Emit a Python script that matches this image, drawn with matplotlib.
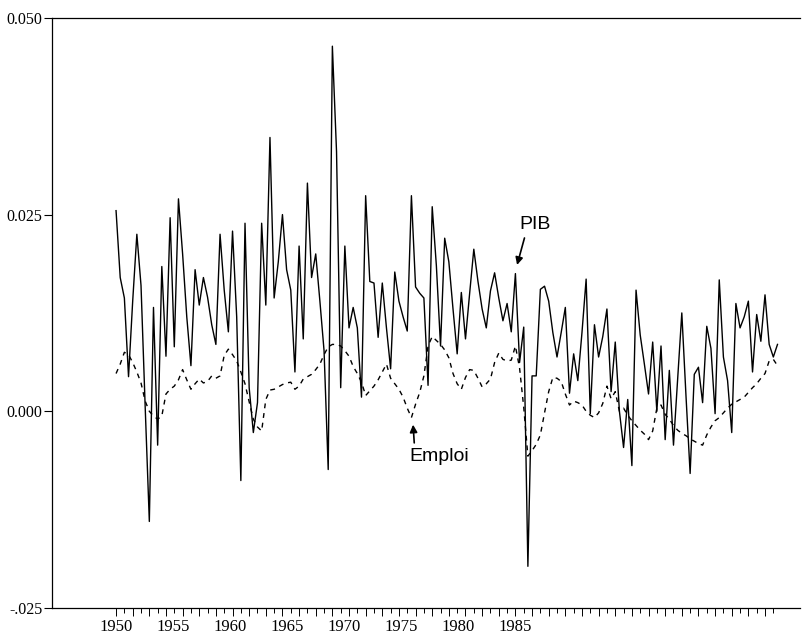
import numpy as np
import matplotlib
matplotlib.use("Agg")
import matplotlib.pyplot as plt

# Croissance trimestrielle, 1950T1 - 1989T4
pib = [
    0.0255, 0.0170, 0.0144, 0.0044, 0.0140, 0.0225, 0.0160, 0.0006, -0.0140, 0.0132,
    -0.0043, 0.0184, 0.0070, 0.0246, 0.0082, 0.0270, 0.0200, 0.0120, 0.0058, 0.0180,
    0.0135, 0.0170, 0.0145, 0.0110, 0.0085, 0.0225, 0.0154, 0.0101, 0.0229, 0.0120,
    -0.0088, 0.0239, 0.0030, -0.0027, 0.0011, 0.0239, 0.0135, 0.0348, 0.0144, 0.0190,
    0.0250, 0.0180, 0.0154, 0.0050, 0.0210, 0.0092, 0.0290, 0.0170, 0.0200, 0.0140,
    0.0077, -0.0074, 0.0464, 0.0330, 0.0030, 0.0210, 0.0106, 0.0132, 0.0106, 0.0018,
    0.0274, 0.0165, 0.0163, 0.0094, 0.0163, 0.0106, 0.0054, 0.0177, 0.0140, 0.0120,
    0.0102, 0.0274, 0.0158, 0.0150, 0.0144, 0.0033, 0.0260, 0.0185, 0.0083, 0.0220,
    0.0190, 0.0130, 0.0073, 0.0151, 0.0092, 0.0150, 0.0206, 0.0165, 0.0130, 0.0106,
    0.0153, 0.0176, 0.0144, 0.0115, 0.0137, 0.0101, 0.0175, 0.0062, 0.0107, -0.0197,
    0.0045, 0.0045, 0.0155, 0.0159, 0.0140, 0.0100, 0.0069, 0.0100, 0.0132, 0.0023,
    0.0073, 0.0039, 0.0100, 0.0168, -0.0003, 0.0110, 0.0069, 0.0095, 0.0130, 0.0025,
    0.0088, 0.0000, -0.0046, 0.0015, -0.0069, 0.0154, 0.0097, 0.0060, 0.0022, 0.0088,
    0.0000, 0.0083, -0.0036, 0.0052, -0.0043, 0.0040, 0.0125, 0.0020, -0.0079, 0.0047,
    0.0056, 0.0011, 0.0108, 0.0080, -0.0003, 0.0167, 0.0069, 0.0039, -0.0027, 0.0137,
    0.0106, 0.0120, 0.0140, 0.0050, 0.0123, 0.0089, 0.0148, 0.0085, 0.0069, 0.0085,
]
emploi = [
    0.0048, 0.0060, 0.0075, 0.0072, 0.0062, 0.0050, 0.0036, 0.0013, 0.0000, -0.0006,
    -0.0010, -0.0006, 0.0022, 0.0028, 0.0032, 0.0040, 0.0053, 0.0040, 0.0028, 0.0035,
    0.0041, 0.0036, 0.0038, 0.0045, 0.0042, 0.0045, 0.0071, 0.0079, 0.0072, 0.0064,
    0.0050, 0.0035, 0.0012, -0.0010, -0.0020, -0.0025, 0.0015, 0.0027, 0.0028, 0.0031,
    0.0034, 0.0036, 0.0037, 0.0028, 0.0032, 0.0041, 0.0044, 0.0047, 0.0053, 0.0060,
    0.0072, 0.0082, 0.0085, 0.0085, 0.0083, 0.0077, 0.0070, 0.0057, 0.0048, 0.0037,
    0.0020, 0.0026, 0.0032, 0.0040, 0.0050, 0.0060, 0.0042, 0.0035, 0.0028, 0.0018,
    0.0004, -0.0008, 0.0009, 0.0024, 0.0045, 0.0083, 0.0095, 0.0090, 0.0085, 0.0078,
    0.0068, 0.0048, 0.0035, 0.0028, 0.0043, 0.0053, 0.0052, 0.0042, 0.0031, 0.0035,
    0.0041, 0.0062, 0.0074, 0.0066, 0.0064, 0.0065, 0.0083, 0.0055, 0.0005, -0.0057,
    -0.0050, -0.0042, -0.0030, -0.0002, 0.0025, 0.0043, 0.0042, 0.0038, 0.0022, 0.0008,
    0.0013, 0.0011, 0.0008, 0.0000, -0.0005, -0.0008, -0.0002, 0.0010, 0.0032, 0.0016,
    0.0025, 0.0000, 0.0004, -0.0005, -0.0012, -0.0018, -0.0024, -0.0029, -0.0036, -0.0025,
    0.0004, 0.0008, -0.0004, -0.0010, -0.0018, -0.0024, -0.0028, -0.0031, -0.0035, -0.0038,
    -0.0041, -0.0043, -0.0030, -0.0020, -0.0012, -0.0008, -0.0002, 0.0004, 0.0009, 0.0012,
    0.0015, 0.0018, 0.0024, 0.0030, 0.0035, 0.0042, 0.0048, 0.0064, 0.0066, 0.0058,
]
dates = 1950 + np.arange(len(pib)) / 4

y_ticks = [-0.025, 0.0, 0.025, 0.050]
y_labels = ["-.025", "0.000", "0.025", "0.050"]
year_labels = [1950, 1955, 1960, 1965, 1970, 1975, 1980, 1985]
label_scale = 0.686  # spacing of the printed year labels along the axis

fig = plt.figure(figsize=(8.06, 6.38), dpi=100)
ax = fig.add_axes([0.0645, 0.047, 0.928, 0.925])

ax.plot(dates, pib, color="black", lw=1.0)
ax.plot(dates, emploi, color="black", lw=1.0, linestyle=(0, (3.5, 3.5)))

ax.set_xlim(1946.15, 1991.1)
ax.set_ylim(-0.025, 0.050)

ax.spines["right"].set_visible(False)
for s in ["top", "left", "bottom"]:
    ax.spines[s].set_linewidth(0.9)

ax.set_yticks(y_ticks)
ax.set_yticklabels(y_labels, fontfamily="Liberation Serif", fontsize=11.5)
ax.tick_params(axis="y", direction="out", length=6, width=0.8, pad=1)

# small ticks every half year, year ticks a bit longer
ax.set_xticks(np.arange(1950, 1990, 1.0))
ax.set_xticks(np.arange(1950.5, 1990, 1.0), minor=True)
ax.tick_params(axis="x", which="major", direction="out", length=6, width=0.7, labelbottom=False)
ax.tick_params(axis="x", which="minor", direction="out", length=3.5, width=0.7)

sec = ax.secondary_xaxis(
    "bottom",
    functions=(lambda x: 1950 + (x - 1950) / label_scale,
               lambda y: 1950 + (y - 1950) * label_scale),
)
sec.set_xticks(year_labels)
sec.set_xticklabels([str(y) for y in year_labels], fontfamily="Liberation Serif", fontsize=12)
sec.tick_params(length=0, pad=8)
sec.spines["bottom"].set_visible(False)

ax.annotate("PIB", xy=(1974.1, 0.0186), xytext=(1975.2, 0.0238),
            ha="center", va="center", fontfamily="Liberation Sans", fontsize=14,
            arrowprops=dict(arrowstyle="-|>", color="black", lw=1.2,
                            mutation_scale=11, relpos=(0.2, 0.0), shrinkA=2, shrinkB=0))
ax.annotate("Emploi", xy=(1967.85, -0.0017), xytext=(1969.45, -0.0058),
            ha="center", va="center", fontfamily="Liberation Sans", fontsize=14,
            arrowprops=dict(arrowstyle="-|>", color="black", lw=1.2,
                            mutation_scale=11, relpos=(0.08, 1.0), shrinkA=2, shrinkB=0))

fig.savefig("out.png", dpi=100)
